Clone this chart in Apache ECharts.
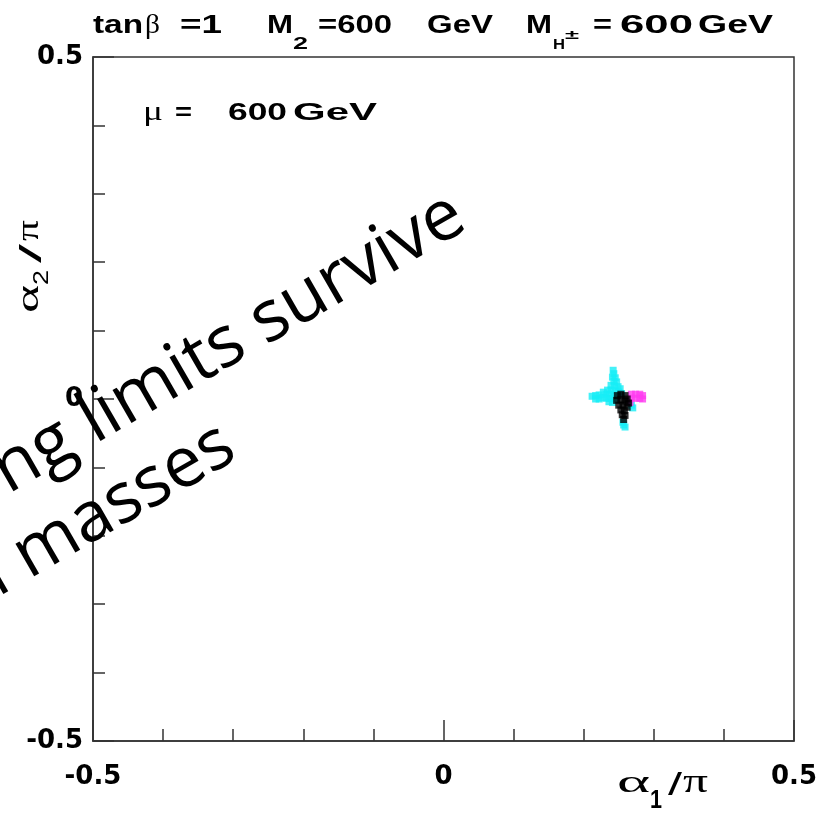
<!DOCTYPE html>
<html>
<head>
<meta charset="utf-8">
<script src="https://cdn.jsdelivr.net/npm/echarts@6/dist/echarts.min.js"></script>
<style>
html, body { margin: 0; padding: 0; background: #fff; }
#chart { width: 832px; height: 814px; }
</style>
</head>
<body>
<div id="chart"></div>
<script>
// [alpha1/pi, alpha2/pi] points
const cyanPoints = [
    [0.242, 0.042], [0.243, 0.037], [0.241, 0.032], [0.245, 0.031], [0.243, 0.026], [0.247, 0.025],
    [0.239, 0.020], [0.244, 0.019], [0.249, 0.018], [0.252, 0.015],
    [0.212, 0.004], [0.217, 0.005], [0.222, 0.006], [0.222, 0.000], [0.217, 0.000], [0.227, 0.002],
    [0.228, 0.010], [0.234, 0.013], [0.239, 0.013], [0.245, 0.012], [0.250, 0.010],
    [0.232, 0.007], [0.237, 0.007], [0.243, 0.007], [0.248, 0.005],
    [0.232, 0.001], [0.237, 0.001], [0.242, 0.001], [0.236, -0.004], [0.241, -0.005],
    [0.254, 0.008], [0.246, -0.001],
    [0.268, -0.009], [0.270, -0.013],
    [0.256, -0.034], [0.257, -0.038], [0.259, -0.041]
]
const magentaPoints = [
    [0.268, 0.007], [0.274, 0.007], [0.280, 0.007], [0.284, 0.005],
    [0.268, 0.001], [0.274, 0.001], [0.280, 0.001], [0.284, 0.000], [0.266, -0.005]
]
const blackPoints = [
    [0.248, 0.005], [0.253, 0.007], [0.259, 0.005], [0.262, 0.000],
    [0.247, -0.002], [0.253, -0.001], [0.259, -0.003], [0.264, -0.006],
    [0.250, -0.009], [0.256, -0.009], [0.262, -0.012],
    [0.253, -0.016], [0.258, -0.017], [0.255, -0.023], [0.259, -0.024], [0.257, -0.030]
]
const axisMin = -0.5
const axisMax = 0.5

const chart = echarts.init(document.getElementById('chart'))

// text pieces are stretched to the width they take in the picture
const ctx = document.createElement('canvas').getContext('2d')
function chunk(text, x, baseline, w, size, family, weight) {
    const font = (weight || 'bold') + ' ' + size + 'px ' + family
    ctx.font = font
    const sx = w / ctx.measureText(text).width
    return {
        type: 'text', x: x, y: baseline - 0.35 * size, scaleX: sx, z: 50,
        style: { text: text, font: font, fill: '#000', align: 'left', verticalAlign: 'middle' }
    }
}
const SANS = '"Liberation Sans"'
const SERIF = '"Liberation Serif"'

const tickStyle = { color: '#333', width: 1.5 }
function axis(margin, padding) {
    return {
        type: 'value',
        min: axisMin,
        max: axisMax,
        interval: 0.5,
        axisLine: { show: true, onZero: false, lineStyle: tickStyle },
        axisTick: { show: true, inside: true, length: 21, lineStyle: tickStyle },
        minorTick: { show: true, splitNumber: 5, length: 12, lineStyle: tickStyle },
        splitLine: { show: false },
        axisLabel: {
            margin: margin,
            padding: padding,
            color: '#000',
            fontFamily: '"DejaVu Sans"',
            fontWeight: 'bold',
            fontSize: 26
        }
    }
}

const option = {
    animation: false,
    backgroundColor: '#fff',
    grid: {
        left: 93, top: 57, width: 701, height: 684,
        containLabel: false, outerBoundsMode: 'none',
        show: true, borderColor: '#333', borderWidth: 1.5
    },
    xAxis: axis(23, 0),
    yAxis: axis(10, [8, 0, 0, 0]),
    series: [
        { type: 'scatter', data: cyanPoints, symbol: 'rect', symbolSize: 7, itemStyle: { color: '#16eef6' }, silent: true },
        { type: 'scatter', data: magentaPoints, symbol: 'rect', symbolSize: 7, itemStyle: { color: '#ff3cf0' }, silent: true },
        { type: 'scatter', data: blackPoints, symbol: 'rect', symbolSize: 7, itemStyle: { color: '#000' }, silent: true }
    ],
    graphic: [
        // title line
        chunk('tan', 93, 35, 50, 25, SANS),
        chunk('\u03b2', 145, 35, 15, 27, SERIF, 'normal'),
        chunk('=1', 180, 35, 42, 25, SANS),
        chunk('M', 267, 35, 26, 25, SANS),
        chunk('2', 293, 50, 15, 16, SANS),
        chunk('=600', 318, 35, 74, 25, SANS),
        chunk('GeV', 427, 35, 66, 25, SANS),
        chunk('M', 526, 35, 26, 25, SANS),
        chunk('H', 553, 50, 12, 15, SANS),
        chunk('\u00b1', 565, 40, 14, 13, SANS),
        chunk('=', 593, 35, 19, 25, SANS),
        chunk('600', 620, 35, 73, 25, SANS),
        chunk('GeV', 698, 35, 75, 25, SANS),
        // mu label inside the frame
        chunk('\u03bc', 143, 122, 20, 28, SERIF, 'normal'),
        chunk('=', 175, 122, 17, 24, SANS),
        chunk('600', 228, 122, 59, 24, SANS),
        chunk('GeV', 293, 122, 84, 24, SANS),
        // x axis title
        chunk('\u03b1', 617, 795, 33, 32, SERIF, 'normal'),
        chunk('1', 650, 810, 12, 26, SANS),
        chunk('/', 668, 797, 14, 32, SANS, 'normal'),
        chunk('\u03c0', 683, 795, 25, 34, SERIF, 'normal'),
        // y axis title, rotated
        {
            type: 'group', x: 41, y: 313, rotation: Math.PI / 2, z: 50,
            children: [
                chunk('\u03b1', 0, 0, 28, 32, SERIF, 'normal'),
                chunk('2', 28, 9, 15, 22, SANS, 'normal'),
                chunk('/', 50, 2, 19, 30, SANS, 'normal'),
                chunk('\u03c0', 72, 0, 21, 32, SERIF, 'normal')
            ]
        },
        // slide text lying over the figure
        {
            type: 'text', x: 472, y: 232, rotation: Math.PI / 6, z: 100,
            style: { text: 'ng limits survive', font: 'normal 71px "Open Sans"', fill: '#000',
                x: 0, y: -25, align: 'right', verticalAlign: 'middle' }
        },
        {
            type: 'text', x: 242, y: 462, rotation: Math.PI / 6, z: 100,
            style: { text: 'n masses', font: 'normal 70px "Open Sans"', fill: '#000',
                x: 0, y: -25, align: 'right', verticalAlign: 'middle' }
        }
    ]
}

chart.setOption(option)
</script>
</body>
</html>
